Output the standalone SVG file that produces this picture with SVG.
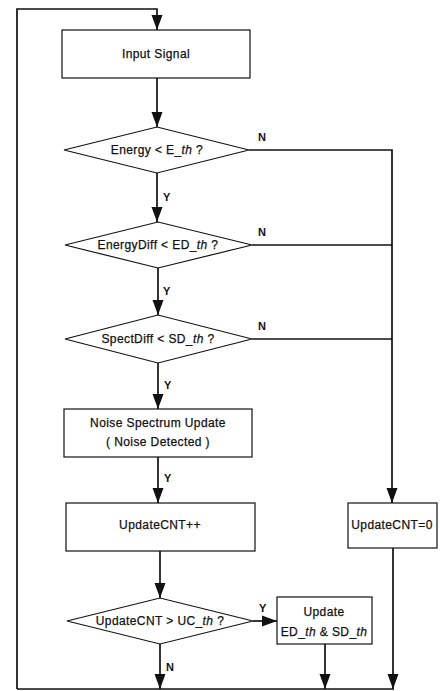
<svg xmlns="http://www.w3.org/2000/svg" width="440" height="691" viewBox="0 0 440 691">
  <style>
    .shape { fill: #ffffff; stroke: #111111; stroke-width: 1.2; }
    .wire { fill: none; stroke: #111111; stroke-width: 1.7; }
    .txt { font-family: "Liberation Sans", Arial, sans-serif; font-size: 12px; fill: #111111; stroke: #111111; stroke-width: 0.25; text-anchor: middle; letter-spacing: 0.4px; }
    .yn { font-family: "Liberation Sans", Arial, sans-serif; font-size: 11px; font-weight: bold; fill: #111111; }
    .it { font-style: italic; }
  </style>
  <defs>
    <marker id="arrowV" markerUnits="userSpaceOnUse" markerWidth="16" markerHeight="12" refX="15" refY="6" orient="auto">
      <path d="M0,0.5 L15,6 L0,11.5 Z" fill="#111111"/>
    </marker>
  </defs>

  <!-- connectors -->
  <g id="connectors">
    <polyline class="wire" points="17,689 17,9 157,9 157,30" marker-end="url(#arrowV)"/>
    <line class="wire" x1="157" y1="78" x2="157" y2="127" marker-end="url(#arrowV)"/>
    <line class="wire" x1="157" y1="173" x2="157" y2="222" marker-end="url(#arrowV)"/>
    <line class="wire" x1="158" y1="268" x2="158" y2="315" marker-end="url(#arrowV)"/>
    <line class="wire" x1="158" y1="363" x2="158" y2="409" marker-end="url(#arrowV)"/>
    <line class="wire" x1="158" y1="457" x2="158" y2="503" marker-end="url(#arrowV)"/>
    <line class="wire" x1="160" y1="551" x2="160" y2="598" marker-end="url(#arrowV)"/>
    <line class="wire" x1="160" y1="644" x2="160" y2="689" marker-end="url(#arrowV)"/>
    <line class="wire" x1="253" y1="621" x2="277" y2="621" marker-end="url(#arrowV)"/>
    <line class="wire" x1="325" y1="644" x2="325" y2="689" marker-end="url(#arrowV)"/>
    <line class="wire" x1="393" y1="548" x2="393" y2="689" marker-end="url(#arrowV)"/>
    <!-- "N" branches merge into the right-hand rail -->
    <polyline class="wire" points="249,150 392,150 392,503" marker-end="url(#arrowV)"/>
    <line class="wire" x1="252" y1="245" x2="392" y2="245"/>
    <line class="wire" x1="252" y1="339" x2="392" y2="339"/>
    <!-- return rail -->
    <line class="wire" x1="17" y1="689" x2="394" y2="689"/>

    <text class="yn" x="258" y="141">N</text>
    <text class="yn" x="258" y="236">N</text>
    <text class="yn" x="258" y="330">N</text>
    <text class="yn" x="163" y="201">Y</text>
    <text class="yn" x="163" y="295">Y</text>
    <text class="yn" x="164" y="389">Y</text>
    <text class="yn" x="164" y="482">Y</text>
    <text class="yn" x="259" y="612">Y</text>
    <text class="yn" x="166" y="671">N</text>
  </g>

  <g id="input-signal">
    <rect class="shape" x="62" y="30" width="188" height="48"/>
    <text class="txt" x="156" y="58">Input Signal</text>
  </g>

  <g id="energy-check">
    <polygon class="shape" points="64,150 157,127 249,150 157,173"/>
    <text class="txt" x="157" y="154">Energy &lt; E_<tspan class="it">th</tspan> ?</text>
  </g>

  <g id="energy-diff-check">
    <polygon class="shape" points="65,245 158,222 252,245 158,268"/>
    <text class="txt" x="158" y="249">EnergyDiff &lt; ED_<tspan class="it">th</tspan> ?</text>
  </g>

  <g id="spect-diff-check">
    <polygon class="shape" points="65,339 158,315 252,339 158,363"/>
    <text class="txt" x="158" y="343">SpectDiff &lt; SD_<tspan class="it">th</tspan> ?</text>
  </g>

  <g id="noise-update">
    <rect class="shape" x="64" y="409" width="188" height="48"/>
    <text class="txt" x="158" y="427">Noise Spectrum Update</text>
    <text class="txt" x="158" y="446">( Noise Detected )</text>
  </g>

  <g id="count-increment">
    <rect class="shape" x="66" y="503" width="189" height="48"/>
    <text class="txt" x="160" y="529">UpdateCNT++</text>
  </g>

  <g id="count-reset">
    <rect class="shape" x="348" y="503" width="89" height="45"/>
    <text class="txt" x="392" y="529">UpdateCNT=0</text>
  </g>

  <g id="count-check">
    <polygon class="shape" points="67,621 160,598 253,621 160,644"/>
    <text class="txt" x="160" y="625">UpdateCNT &gt; UC_<tspan class="it">th</tspan> ?</text>
  </g>

  <g id="threshold-update">
    <rect class="shape" x="277" y="597" width="95" height="47"/>
    <text class="txt" x="324" y="616">Update</text>
    <text class="txt" x="324" y="636" letter-spacing="0">ED_<tspan class="it">th</tspan> &amp; SD_<tspan class="it">th</tspan></text>
  </g>
</svg>
